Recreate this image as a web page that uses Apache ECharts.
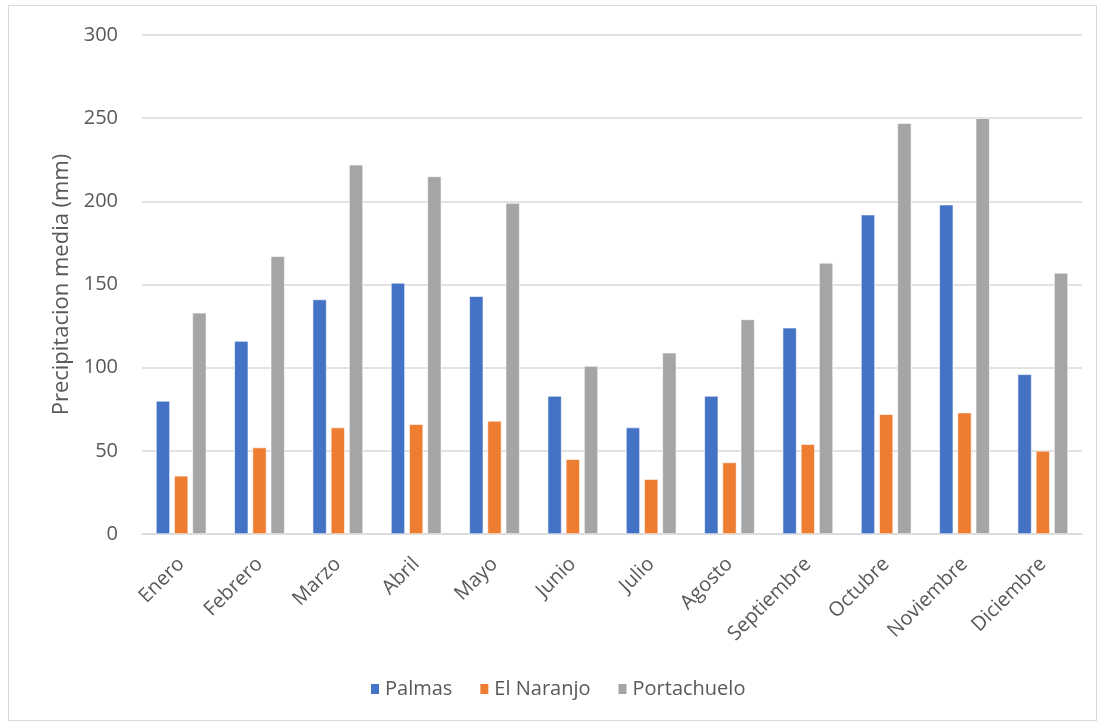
<!DOCTYPE html>
<html>
<head>
<meta charset="utf-8">
<script src="https://cdn.jsdelivr.net/npm/echarts@6/dist/echarts.min.js"></script>
<style>
  html, body { margin: 0; padding: 0; background: #fff; }
  #frame { position: absolute; left: 8px; top: 5px; width: 1089px; height: 716px; border: 1px solid #d9d9d9; box-sizing: border-box; }
  #chart { width: 1100px; height: 725px; }
</style>
</head>
<body>
<div id="frame"></div>
<div id="chart"></div>
<script>
// meses
const months = ['Enero', 'Febrero', 'Marzo', 'Abril', 'Mayo', 'Junio', 'Julio', 'Agosto', 'Septiembre', 'Octubre', 'Noviembre', 'Diciembre']
// precipitacion media (mm) por estacion
const palmas = [80, 116, 141, 151, 143, 83, 64, 83, 124, 192, 198, 96]
const elNaranjo = [35, 52, 64, 66, 68, 45, 33, 43, 54, 72, 73, 50]
const portachuelo = [133, 167, 222, 215, 199, 101, 109, 129, 163, 247, 250, 157]
const yTicks = [0, 50, 100, 150, 200, 250, 300]

const axisColor = '#d9d9d9'
const textColor = '#595959'
const font = '"Open Sans", Lato, sans-serif'

const chart = echarts.init(document.getElementById('chart'))

function bar(name, data, color) {
  return {
    name: name,
    type: 'bar',
    data: data,
    barWidth: 14,
    barGap: '30%',
    itemStyle: { color: color, borderColor: '#fff', borderWidth: 0.6 }
  }
}

chart.setOption({
  animation: false,
  textStyle: { fontFamily: font },
  grid: { left: 142, right: 18, top: 35, bottom: 191, containLabel: false },
  legend: {
    bottom: 21,
    left: 364,
    itemWidth: 10,
    itemHeight: 12,
    itemGap: 26,
    icon: 'rect',
    textStyle: { color: textColor, fontSize: 20, fontFamily: font },
    data: ['Palmas', 'El Naranjo', 'Portachuelo']
  },
  xAxis: {
    type: 'category',
    data: months,
    axisLine: { lineStyle: { color: axisColor, width: 1.5 } },
    axisTick: { show: false },
    axisLabel: {
      color: textColor,
      fontSize: 20,
      rotate: 45,
      margin: 27,
      interval: 0
    }
  },
  yAxis: {
    type: 'value',
    min: yTicks[0],
    max: yTicks[yTicks.length - 1],
    interval: 50,
    name: 'Precipitacion media (mm)',
    nameLocation: 'middle',
    nameGap: 69,
    nameTextStyle: { color: textColor, fontSize: 22 },
    axisLine: { show: false },
    axisTick: { show: false },
    axisLabel: { color: textColor, fontSize: 20, margin: 24 },
    splitLine: { lineStyle: { color: axisColor, width: 1.5 } }
  },
  series: [
    bar('Palmas', palmas, '#4472c4'),
    bar('El Naranjo', elNaranjo, '#ed7d31'),
    bar('Portachuelo', portachuelo, '#a5a5a5')
  ]
})
</script>
</body>
</html>
